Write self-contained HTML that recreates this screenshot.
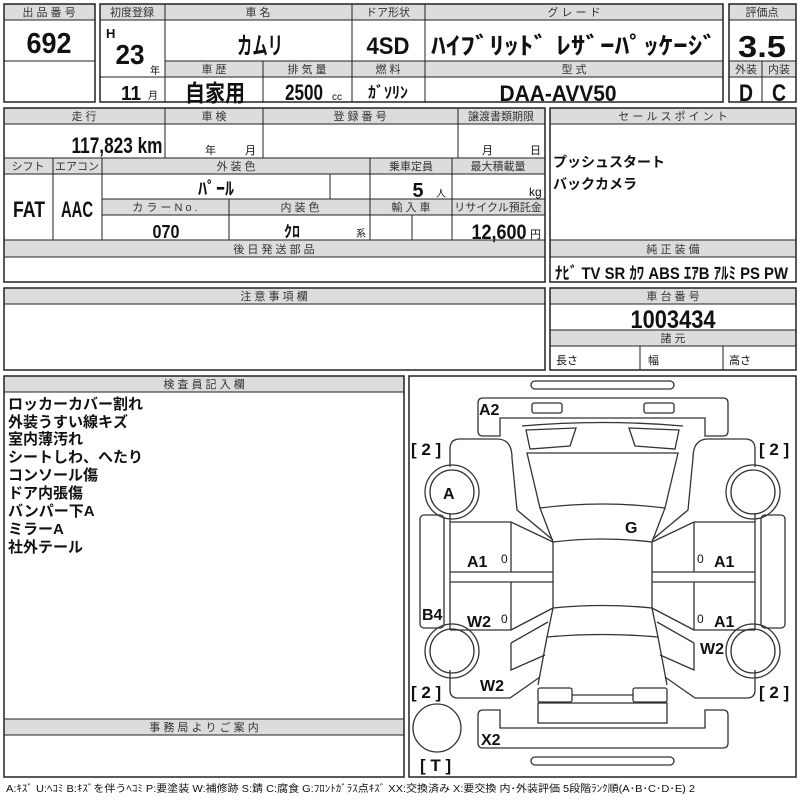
<!DOCTYPE html>
<html><head><meta charset="utf-8"><style>
html,body{margin:0;padding:0;background:#fff;}
svg{display:block;}
text{font-family:"Liberation Sans","Noto Sans CJK JP",sans-serif;fill:#111;}
.h{font-size:11px;text-anchor:middle;fill:#333;}
.b{font-family:"Liberation Sans","Noto Sans CJK JP",sans-serif;font-weight:bold;text-anchor:middle;}
.g{fill:#dcdcdc;stroke:#222;stroke-width:1;}
.o{fill:none;stroke:#222;stroke-width:1.5;}
.l{stroke:#222;stroke-width:1;fill:none;}
.car{fill:none;stroke:#333;stroke-width:1.3;}
</style></head><body>
<svg width="800" height="800" viewBox="0 0 800 800" xmlns="http://www.w3.org/2000/svg">
<!-- Box1 -->
<rect class="g" x="4" y="4" width="91" height="16"/>
<rect class="o" x="4" y="4" width="91" height="98"/>
<line class="l" x1="4" y1="61" x2="95" y2="61"/>
<text class="h" x="49" y="16">出 品 番 号</text>
<text class="b" x="49" y="53" font-size="29" textLength="45" lengthAdjust="spacingAndGlyphs">692</text>
<!-- Box2 -->
<rect class="g" x="100" y="4" width="623" height="16"/>
<rect class="g" x="165" y="61" width="558" height="16"/>
<rect class="o" x="100" y="4" width="623" height="98"/>
<g class="l">
<line x1="165" y1="4" x2="165" y2="102"/><line x1="352" y1="4" x2="352" y2="102"/><line x1="425" y1="4" x2="425" y2="102"/>
<line x1="263" y1="61" x2="263" y2="102"/><line x1="100" y1="77" x2="723" y2="77"/>
</g>
<text class="h" x="132" y="16">初度登録</text>
<text class="h" x="258" y="16">車 名</text>
<text class="h" x="388" y="16">ドア形状</text>
<text class="h" x="574" y="16">グ レ ー ド</text>
<text x="106" y="38" font-size="13" font-weight="bold">H</text>
<text class="b" x="130" y="64" font-size="28" textLength="29" lengthAdjust="spacingAndGlyphs">23</text>
<text x="150" y="74" font-size="10">年</text>
<text class="b" x="260" y="54" font-size="24" textLength="46" lengthAdjust="spacingAndGlyphs">カムリ</text>
<text class="b" x="388" y="54" font-size="24" textLength="43" lengthAdjust="spacingAndGlyphs">4SD</text>
<text class="b" x="574" y="54" font-size="24" textLength="286" lengthAdjust="spacingAndGlyphs">ﾊｲﾌﾞﾘｯﾄﾞ ﾚｻﾞｰﾊﾟｯｹｰｼﾞ</text>
<text class="h" x="214" y="73">車 歴</text>
<text class="h" x="307" y="73">排 気 量</text>
<text class="h" x="388" y="73">燃 料</text>
<text class="h" x="574" y="73">型 式</text>
<text class="b" x="131" y="100" font-size="20" textLength="20" lengthAdjust="spacingAndGlyphs">11</text>
<text x="148" y="99" font-size="10">月</text>
<text class="b" x="215" y="101" font-size="23" textLength="60" lengthAdjust="spacingAndGlyphs">自家用</text>
<text class="b" x="304" y="100" font-size="22" textLength="38" lengthAdjust="spacingAndGlyphs">2500</text>
<text x="332" y="100" font-size="10">cc</text>
<text class="b" x="388" y="98" font-size="16">ｶﾞｿﾘﾝ</text>
<text class="b" x="558" y="101" font-size="22" textLength="117" lengthAdjust="spacingAndGlyphs">DAA-AVV50</text>
<!-- Box3 -->
<rect class="g" x="729" y="4" width="67" height="16"/>
<rect class="g" x="729" y="61" width="67" height="16"/>
<rect class="o" x="729" y="4" width="67" height="98"/>
<line class="l" x1="762" y1="61" x2="762" y2="102"/>
<text class="h" x="762" y="16">評価点</text>
<text class="b" x="762" y="57" font-size="31" textLength="48" lengthAdjust="spacingAndGlyphs">3.5</text>
<text class="h" x="746" y="73">外装</text><text class="h" x="779" y="73">内装</text>
<text class="b" x="746" y="101" font-size="24" textLength="14" lengthAdjust="spacingAndGlyphs">D</text><text class="b" x="779" y="101" font-size="24" textLength="14" lengthAdjust="spacingAndGlyphs">C</text>
<!-- Section2 -->
<rect class="g" x="4" y="108" width="541" height="16"/>
<rect class="g" x="4" y="158" width="541" height="16"/>
<rect class="g" x="102" y="199" width="443" height="16"/>
<rect class="g" x="4" y="240" width="541" height="17"/>
<rect class="o" x="4" y="108" width="541" height="174"/>
<g class="l">
<line x1="165" y1="108" x2="165" y2="158"/><line x1="263" y1="108" x2="263" y2="158"/><line x1="458" y1="108" x2="458" y2="158"/>
<line x1="53" y1="158" x2="53" y2="240"/><line x1="102" y1="158" x2="102" y2="240"/><line x1="370" y1="158" x2="370" y2="240"/><line x1="452" y1="158" x2="452" y2="240"/>
<line x1="330" y1="174" x2="330" y2="199"/><line x1="229" y1="199" x2="229" y2="240"/><line x1="412" y1="215" x2="412" y2="240"/>
</g>
<text class="h" x="84" y="120">走 行</text>
<text class="h" x="214" y="120">車 検</text>
<text class="h" x="360" y="120">登 録 番 号</text>
<text class="h" x="501" y="120">譲渡書類期限</text>
<text class="b" x="117" y="153" font-size="22" textLength="91" lengthAdjust="spacingAndGlyphs">117,823 km</text>
<text x="205" y="154" font-size="11">年</text><text x="245" y="154" font-size="11">月</text>
<text x="482" y="154" font-size="11">月</text><text x="530" y="154" font-size="11">日</text>
<text class="h" x="28" y="170">シフト</text>
<text class="h" x="77" y="170">エアコン</text>
<text class="h" x="236" y="170">外 装 色</text>
<text class="h" x="411" y="170">乗車定員</text>
<text class="h" x="498" y="170">最大積載量</text>
<text class="b" x="216" y="195" font-size="18">ﾊﾟｰﾙ</text>
<text class="b" x="418" y="197" font-size="20" textLength="11" lengthAdjust="spacingAndGlyphs">5</text><text x="436" y="197" font-size="10">人</text>
<text x="529" y="196" font-size="12">kg</text>
<text class="b" x="29" y="217" font-size="22" textLength="32" lengthAdjust="spacingAndGlyphs">FAT</text>
<text class="b" x="77" y="217" font-size="22" textLength="32" lengthAdjust="spacingAndGlyphs">AAC</text>
<text class="h" x="165" y="211">カ ラ ー N o .</text>
<text class="h" x="300" y="211">内 装 色</text>
<text class="h" x="411" y="211">輸 入 車</text>
<text class="h" x="498" y="211">リサイクル預託金</text>
<text class="b" x="166" y="238" font-size="18" textLength="27" lengthAdjust="spacingAndGlyphs">070</text>
<text class="b" x="292" y="237" font-size="16">ｸﾛ</text>
<text x="356" y="237" font-size="10">系</text>
<text class="b" x="499" y="239" font-size="21" textLength="55" lengthAdjust="spacingAndGlyphs">12,600</text><text x="530" y="238" font-size="11">円</text>
<text class="h" x="274" y="253">後 日 発 送 部 品</text>
<!-- Sales point -->
<rect class="g" x="550" y="108" width="246" height="16"/>
<rect class="g" x="550" y="240" width="246" height="17"/>
<rect class="o" x="550" y="108" width="246" height="174"/>
<text class="h" x="673" y="120">セ ー ル ス ポ イ ン ト</text>
<text x="553" y="167" font-size="14" font-weight="bold">プッシュスタート</text>
<text x="553" y="189" font-size="14" font-weight="bold">バックカメラ</text>
<text class="h" x="673" y="253">純 正 装 備</text>
<text x="555" y="279" font-size="17" font-weight="bold" textLength="233" lengthAdjust="spacingAndGlyphs">ﾅﾋﾞ TV SR ｶﾜ ABS ｴｱB ｱﾙﾐ PS PW</text>
<!-- Section3 -->
<rect class="g" x="4" y="288" width="541" height="16"/>
<rect class="o" x="4" y="288" width="541" height="82"/>
<text class="h" x="274" y="300">注 意 事 項 欄</text>
<rect class="g" x="550" y="288" width="246" height="16"/>
<rect class="g" x="550" y="330" width="246" height="16"/>
<rect class="o" x="550" y="288" width="246" height="82"/>
<g class="l"><line x1="640" y1="346" x2="640" y2="370"/><line x1="723" y1="346" x2="723" y2="370"/></g>
<text class="h" x="673" y="300">車 台 番 号</text>
<text class="b" x="673" y="328" font-size="25" textLength="85" lengthAdjust="spacingAndGlyphs">1003434</text>
<text class="h" x="673" y="342">諸 元</text>
<text x="556" y="364" font-size="11">長さ</text><text x="648" y="364" font-size="11">幅</text><text x="729" y="364" font-size="11">高さ</text>
<!-- Section4 left -->
<rect class="g" x="4" y="376" width="400" height="16"/>
<rect class="g" x="4" y="719" width="400" height="16"/>
<rect class="o" x="4" y="376" width="400" height="401"/>
<text class="h" x="204" y="388">検 査 員 記 入 欄</text>
<g font-size="15" font-weight="bold">
<text x="8" y="409">ロッカーカバー割れ</text>
<text x="8" y="427">外装うすい線キズ</text>
<text x="8" y="444">室内薄汚れ</text>
<text x="8" y="462">シートしわ、へたり</text>
<text x="8" y="480">コンソール傷</text>
<text x="8" y="498">ドア内張傷</text>
<text x="8" y="516">バンパー下A</text>
<text x="8" y="534">ミラーA</text>
<text x="8" y="552">社外テール</text>
</g>
<text class="h" x="204" y="731">事 務 局 よ り ご 案 内</text>
<!-- Diagram box -->
<rect class="o" x="409" y="376" width="387" height="401"/>
<text x="6" y="792" font-size="10" fill="#333" textLength="689" lengthAdjust="spacingAndGlyphs">A:ｷｽﾞ U:ﾍｺﾐ B:ｷｽﾞを伴うﾍｺﾐ P:要塗装 W:補修跡 S:錆 C:腐食 G:ﾌﾛﾝﾄｶﾞﾗｽ点ｷｽﾞ XX:交換済み X:要交換 内･外装評価 5段階ﾗﾝｸ順(A･B･C･D･E) 2</text>
<!-- Car -->
<g class="car">
<rect x="531" y="381" width="143" height="8" rx="4"/>
<rect x="531" y="757" width="143" height="8" rx="4"/>
<path d="M483,398 H723 Q728,398 728,403 V431 Q728,436 723,436 H705 V418 H500 V436 H483 Q478,436 478,431 V403 Q478,398 483,398 Z"/>
<path d="M483,748 H723 Q728,748 728,743 V715 Q728,710 723,710 H705 V728 H500 V710 H483 Q478,710 478,715 V743 Q478,748 483,748 Z"/>
<rect x="532" y="403" width="30" height="10" rx="2"/>
<rect x="644" y="403" width="30" height="10" rx="2"/>
<path d="M522,426 Q602,419 683,426"/>
<path d="M527,453 L678,453 L665,508 Q602,500 540,508 Z"/>
<path d="M540,508 L553,542 Q602,536 652,542 L665,508"/>
<path d="M553,542 V608 M652,542 V608"/>
<path d="M553,608 Q602,603 652,608 L658,637 Q602,632 547,637 Z"/>
<path d="M547,637 L538,685 M658,637 L667,685"/>
<rect x="538" y="688" width="34" height="14" rx="2"/>
<rect x="633" y="688" width="34" height="14" rx="2"/>
<line x1="572" y1="695" x2="633" y2="695"/>
<rect x="538" y="703" width="129" height="20"/>
<circle cx="437" cy="728" r="24"/>
<g>
<path d="M526,430 L576,428 L570,446 L530,449 Z"/>
<path d="M450,467 V449 Q450,439 460,439 H497 Q512,439 512,458 L517,510 L553,540"/>
<path d="M450,513 V630 M450,670 V690 Q450,698 458,698 H510 L540,677"/>
<path d="M450,522 H511 L553,542 M511,522 V572"/>
<path d="M450,572 H553 M450,582 H553"/>
<path d="M511,582 V630 H450 M511,630 L553,608"/>
<path d="M511,643 L548,622 M511,643 V670 L545,655"/>
<circle cx="452" cy="492" r="27"/><circle cx="452" cy="492" r="22"/>
<circle cx="452" cy="651" r="27"/><circle cx="452" cy="651" r="22"/>
<rect x="420" y="515" width="24" height="113" rx="4"/>
</g>
<g transform="translate(1205,0) scale(-1,1)">
<path d="M526,430 L576,428 L570,446 L530,449 Z"/>
<path d="M450,467 V449 Q450,439 460,439 H497 Q512,439 512,458 L517,510 L553,540"/>
<path d="M450,513 V630 M450,670 V690 Q450,698 458,698 H510 L540,677"/>
<path d="M450,522 H511 L553,542 M511,522 V572"/>
<path d="M450,572 H553 M450,582 H553"/>
<path d="M511,582 V630 H450 M511,630 L553,608"/>
<path d="M511,643 L548,622 M511,643 V670 L545,655"/>
<circle cx="452" cy="492" r="27"/><circle cx="452" cy="492" r="22"/>
<circle cx="452" cy="651" r="27"/><circle cx="452" cy="651" r="22"/>
<rect x="420" y="515" width="24" height="113" rx="4"/>
</g>
</g>
<g font-size="16" font-weight="bold">
<text x="479" y="415">A2</text>
<text x="443" y="499">A</text>
<text x="625" y="533">G</text>
<text x="467" y="567">A1</text>
<text x="714" y="567">A1</text>
<text x="422" y="620">B4</text>
<text x="467" y="627">W2</text>
<text x="714" y="627">A1</text>
<text x="700" y="654">W2</text>
<text x="480" y="691">W2</text>
<text x="481" y="745">X2</text>
</g>
<g font-size="12"><text x="501" y="563">0</text><text x="697" y="563">0</text><text x="501" y="623">0</text><text x="697" y="623">0</text></g>
<g font-size="17" font-weight="bold">
<text x="411" y="455">[ 2 ]</text><text x="759" y="455">[ 2 ]</text>
<text x="411" y="698">[ 2 ]</text><text x="759" y="698">[ 2 ]</text>
<text x="420" y="771">[ T ]</text>
</g>
</svg>
</body></html>
